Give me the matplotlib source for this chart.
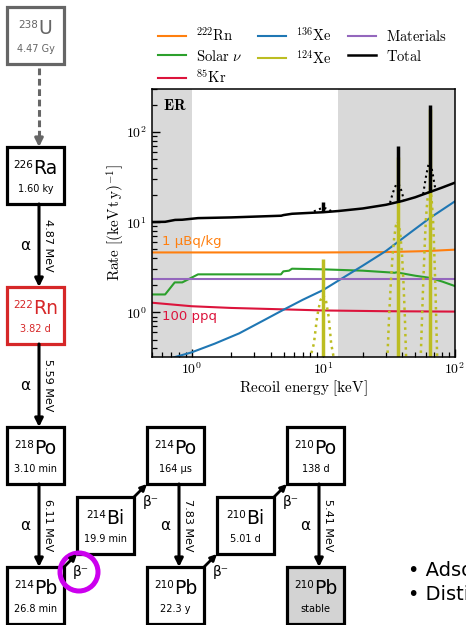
import numpy as np
import matplotlib
matplotlib.use("Agg")
import matplotlib.pyplot as plt
from matplotlib.patches import Rectangle, Circle
from matplotlib.lines import Line2D
from matplotlib.ticker import FuncFormatter, NullFormatter, LogLocator

plt.rcParams["mathtext.fontset"] = "cm"

# ER background spectrum (keV, events/(keV t y))
rn222_e = [0.5, 10, 30, 60, 100]
rn222_r = [4.62, 4.62, 4.66, 4.78, 4.96]

solar_e = [0.5, 0.63, 0.745, 0.85, 1.12, 4.78, 4.98, 5.5, 5.8, 10, 20, 35, 36, 50, 64, 80, 100]
solar_r = [1.58, 1.58, 2.15, 2.15, 2.64, 2.64, 2.85, 2.9, 3.05, 3.0, 2.9, 2.75, 2.78, 2.55, 2.42, 2.2, 1.96]

kr85_e = [0.5, 1, 2, 5, 10, 30, 100]
kr85_r = [1.28, 1.17, 1.12, 1.08, 1.05, 1.03, 1.02]

xe136_e = [0.5, 0.75, 1, 1.5, 2.3, 3.5, 5, 7, 10, 15, 20, 30, 45, 65, 100]
xe136_r = [0.26, 0.32, 0.36, 0.45, 0.585, 0.81, 1.07, 1.38, 1.77, 2.55, 3.3, 4.8, 7.5, 11.2, 17]

mat_e = [0.5, 100]
mat_r = [2.33, 2.33]

tot_e = [0.5, 0.63, 0.75, 0.85, 1.12, 2, 4.8, 5.0, 5.8, 8, 10, 13, 20, 30, 40, 50, 65, 80, 100]
tot_r = [10.05, 10.1, 10.6, 10.65, 11.1, 11.3, 11.8, 12.0, 12.4, 12.7, 12.9, 13.3, 14.2, 15.6, 17.2, 18.9, 21.7, 24.2, 27.4]

# 124Xe lines
peak_e = [10.0, 36.7, 64.3]
xe124_top = [3.9, 53, 180]
tot_base = [12.9, 16.9, 21.8]
tot_top = [16.9, 70, 201]

# smeared 124Xe peaks (dotted)
sm1_e = [7.9, 8.5, 9.0, 9.5, 10.0, 10.5, 11.0, 11.5, 12.1]
sm1_r = [0.3, 0.45, 0.9, 1.35, 1.56, 1.35, 0.9, 0.45, 0.3]
sm2_e = [30.7, 31.7, 32.7, 33.7, 34.7, 35.7, 36.7, 37.7, 38.7, 39.7, 40.7, 41.7, 42.7]
sm2_r = [0.3, 0.92, 2.2, 4.4, 6.9, 9.2, 10.2, 9.2, 6.9, 4.4, 2.2, 0.92, 0.3]
sm3_e = [55.0, 57.3, 59.3, 60.3, 61.3, 62.3, 63.3, 64.3, 65.3, 66.3, 67.3, 68.3, 69.3, 71.3, 73.5]
sm3_r = [0.3, 1.77, 6.4, 10.7, 14.8, 19.4, 22.9, 24.0, 22.9, 19.4, 14.8, 10.7, 6.4, 1.77, 0.3]

# total with smeared peaks (dotted)
ts1_e = [8.5, 9.0, 9.5, 10.0, 10.5, 11.0, 11.5]
ts1_r = [13.2, 13.6, 14.1, 14.4, 14.2, 13.8, 13.3]
ts2_e = [32.2, 33.7, 34.7, 35.7, 36.7, 37.7, 38.7, 39.7, 41.0]
ts2_r = [16.4, 20.8, 23.4, 25.8, 26.9, 26.0, 23.8, 21.4, 17.3]
ts3_e = [57.5, 59.3, 60.3, 61.3, 62.3, 63.3, 64.3, 65.3, 66.3, 67.3, 68.3, 69.3, 71.0]
ts3_r = [20.5, 27.2, 31.6, 35.8, 40.5, 44.1, 45.5, 44.6, 41.2, 36.8, 32.9, 28.9, 23.8]

# decay chain
masses = [238, 226, 222, 218, 214, 214, 214, 210, 210, 210, 210]
symbols = ["U", "Ra", "Rn", "Po", "Pb", "Bi", "Po", "Pb", "Bi", "Po", "Pb"]
half_lives = ["4.47 Gy", "1.60 ky", "3.82 d", "3.10 min", "26.8 min", "19.9 min",
              "164 µs", "22.3 y", "5.01 d", "138 d", "stable"]
alpha_decays = [(1, 2, "4.87 MeV"), (2, 3, "5.59 MeV"), (3, 4, "6.11 MeV"),
                (6, 7, "7.83 MeV"), (9, 10, "5.41 MeV")]
beta_decays = [(4, 5), (5, 6), (7, 8), (8, 9)]

# layout of the chain (grid column, row), 70 px per cell
grid = [(0, 0), (0, 2), (0, 4), (0, 6), (0, 8), (1, 7), (2, 6), (2, 8), (3, 7), (4, 6), (4, 8)]
cell, box = 70, 57

fig = plt.figure(figsize=(4.66, 6.25), dpi=100)
renderer = fig.canvas.get_renderer()

# ---------------- decay chain (pixel coordinates) ----------------
d = fig.add_axes([0, 0, 1, 1])
d.set_xlim(0, 466)
d.set_ylim(625, 0)
d.set_axis_off()

def box_pos(i):
    c, r = grid[i]
    return 7 + cell * c, 7 + cell * r

for i, (m, s, h) in enumerate(zip(masses, symbols, half_lives)):
    x0, y0 = box_pos(i)
    col = "k"
    face = "white"
    if i == 0:
        col = "#666666"
    if s == "Rn":
        col = "#d62728"
    if h == "stable":
        face = "#d3d3d3"
    d.add_patch(Rectangle((x0, y0), box, box, fc=face, ec=col, lw=2.3))
    # mass number as a small superscript, then the element symbol
    t1 = d.text(0, 0, str(m), fontsize=7.5, color=col, ha="left", va="baseline")
    t2 = d.text(0, 0, s, fontsize=13.5, color=col, ha="left", va="baseline")
    w1 = t1.get_window_extent(renderer).width
    w2 = t2.get_window_extent(renderer).width
    xs = x0 + box / 2 - (w1 + w2) / 2
    t1.set_position((xs, y0 + 20.5))
    t2.set_position((xs + w1, y0 + 26.5))
    d.text(x0 + box / 2, y0 + 42, h, fontsize=7, color=col, ha="center", va="center")

# 238U -> 226Ra (dashed, many steps)
ux, uy = box_pos(0)
rx, ry = box_pos(1)
d.plot([ux + 32, ux + 32], [uy + box + 4, ry - 8], ls=(0, (2.2, 1.2)), lw=2.2, color="#666666")
d.annotate("", xy=(ux + 32, ry), xytext=(ux + 32, ry - 10),
           arrowprops=dict(arrowstyle="-|>", color="#666666", lw=2.2, mutation_scale=12,
                           shrinkA=0, shrinkB=0))

for a, b, en in alpha_decays:
    xa, ya = box_pos(a)
    xb, yb = box_pos(b)
    d.annotate("", xy=(xa + 32, yb), xytext=(xa + 32, ya + box),
               arrowprops=dict(arrowstyle="-|>", color="k", lw=2.2, mutation_scale=12,
                               shrinkA=0, shrinkB=0))
    mid = (ya + box + yb) / 2
    d.text(xa + 18, mid, "α", fontsize=11, ha="center", va="center")
    d.text(xa + 41, mid, en, fontsize=8, rotation=-90, ha="center", va="center")

for a, b in beta_decays:
    xa, ya = box_pos(a)
    xb, yb = box_pos(b)
    d.annotate("", xy=(xb, yb + box), xytext=(xa + box, ya),
               arrowprops=dict(arrowstyle="-|>", color="k", lw=2, mutation_scale=9,
                               shrinkA=0, shrinkB=0))
    d.text(xb + 4, yb + box + 18, "β⁻", fontsize=10, ha="center", va="center")

bx, by = box_pos(5)
d.add_patch(Circle((bx + 2, by + box + 18), 19, fill=False, ec="#cc00ee", lw=3.6))

d.text(408, 570, "• Adsorption", fontsize=14, va="center")
d.text(408, 595, "• Distillation", fontsize=14, va="center")

# ---------------- ER spectrum ----------------
ax = fig.add_axes([0.326, 0.4288, 0.650, 0.4288])
ax.set_xscale("log")
ax.set_yscale("log")
ax.axvspan(0.5, 1.0, color="#d9d9d9", lw=0, zorder=0)
ax.axvspan(13, 100, color="#d9d9d9", lw=0, zorder=0)

h_rn, = ax.plot(rn222_e, rn222_r, color="#ff7f0e", lw=1.5)
h_sol, = ax.plot(solar_e, solar_r, color="#2ca02c", lw=1.5)
h_kr, = ax.plot(kr85_e, kr85_r, color="crimson", lw=1.5)
h_xe, = ax.plot(xe136_e, xe136_r, color="#1f77b4", lw=1.5)
h_mat, = ax.plot(mat_e, mat_r, color="#9467bd", lw=1.5)

for se, sr in [(sm1_e, sm1_r), (sm2_e, sm2_r), (sm3_e, sm3_r)]:
    ax.plot(se, sr, color="#bcbd22", lw=1.8, ls=":")
ax.vlines(peak_e, 0.1, xe124_top, color="#bcbd22", lw=2.5)
for se, sr in [(ts1_e, ts1_r), (ts2_e, ts2_r), (ts3_e, ts3_r)]:
    ax.plot(se, sr, color="k", lw=1.5, ls=":")
h_tot, = ax.plot(tot_e, tot_r, color="k", lw=1.8)
ax.vlines(peak_e, tot_base, tot_top, color="k", lw=2.5)
h_124 = Line2D([], [], color="#bcbd22", lw=1.5)

ax.text(0.6, 6.1, "1 µBq/kg", color="#ff7f0e", fontsize=9.5, va="center")
ax.text(0.6, 0.89, "100 ppq", color="crimson", fontsize=9.5, va="center")
ax.text(0.035, 0.94, r"$\mathbf{ER}$", transform=ax.transAxes, fontsize=11, va="center")

ax.set_xlim(0.5, 100)
ax.set_ylim(0.32, 300)
fmt = FuncFormatter(lambda v, p: r"$10^{%d}$" % round(np.log10(v)))
ax.xaxis.set_major_formatter(fmt)
ax.yaxis.set_major_formatter(fmt)
ax.xaxis.set_minor_formatter(NullFormatter())
ax.yaxis.set_minor_formatter(NullFormatter())
ax.yaxis.set_minor_locator(LogLocator(subs=np.arange(2, 10)))
ax.tick_params(which="both", direction="in", labelsize=10)
ax.tick_params(which="major", length=6, width=1)
ax.tick_params(which="minor", length=3.5, width=0.9)
for sp in ax.spines.values():
    sp.set_linewidth(1.1)
ax.set_xlabel(r"$\mathrm{Recoil\ energy\ [keV]}$", fontsize=11, labelpad=1)
ax.set_ylabel(r"$\mathrm{Rate\ [(keV\,t\,y)^{-1}]}$", fontsize=11, labelpad=-1)

labels = [r"$^{222}\mathrm{Rn}$", r"$\mathrm{Solar}\ \nu$", r"$^{85}\mathrm{Kr}$",
          r"$^{136}\mathrm{Xe}$", r"$^{124}\mathrm{Xe}$", r"$\mathrm{Materials}$", r"$\mathrm{Total}$"]
fig.legend([h_rn, h_sol, h_kr, h_xe, h_124, h_mat, h_tot], labels, ncol=3,
           loc="upper left", bbox_to_anchor=(0.339, 0.958), frameon=False, fontsize=10.5,
           handlelength=1.9, handletextpad=0.7, columnspacing=1.1, labelspacing=0.3,
           borderaxespad=0, borderpad=0)

fig.savefig("out.png", dpi=100)
